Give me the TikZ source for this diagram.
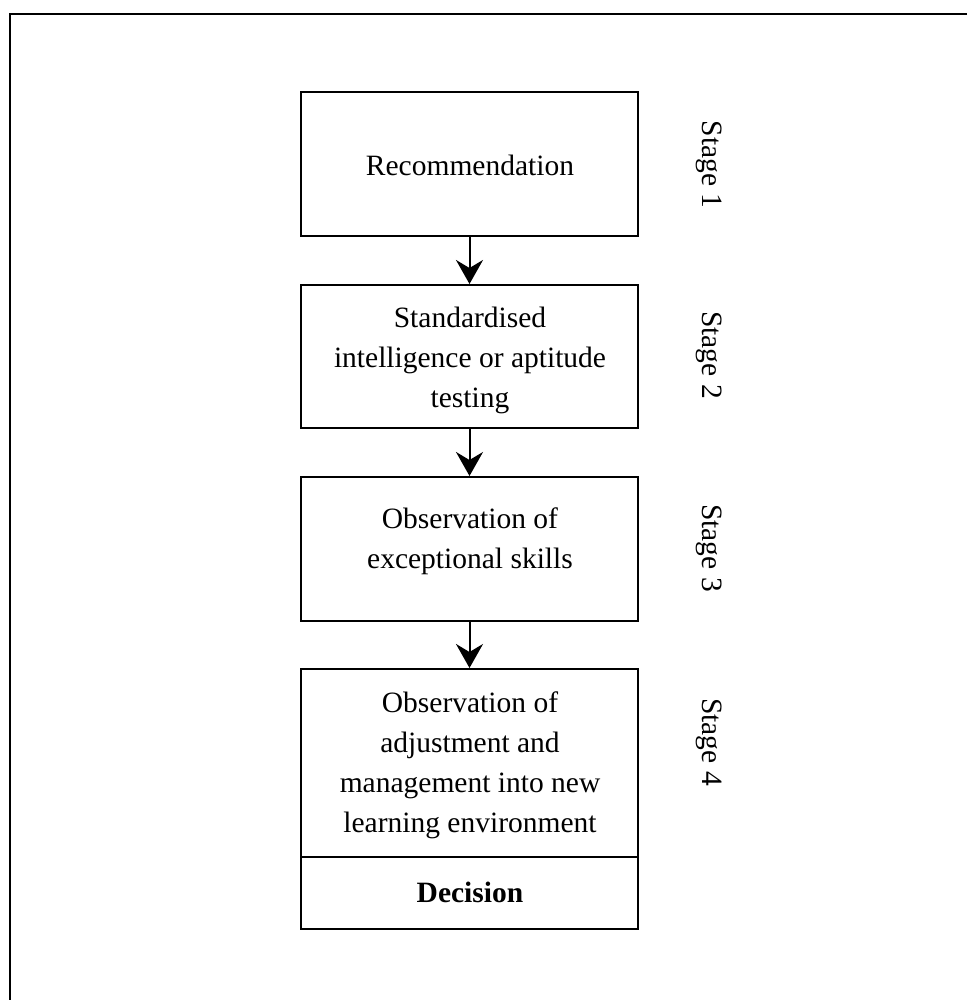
\documentclass[tikz,border=0pt]{standalone}
\usepackage{fontspec}
\setmainfont{Liberation Serif}
\usetikzlibrary{arrows.meta}
\begin{document}
\begin{tikzpicture}[x=1pt,y=-1pt,
  boxshape/.style={draw, line width=2pt, rectangle, inner sep=0pt, minimum width=337pt},
  txt/.style={anchor=base, inner sep=0pt, font=\fontsize{29.5}{40}\selectfont},
  stagelbl/.style={anchor=base, inner sep=0pt, rotate=-90, font=\fontsize{29.5}{40}\selectfont},
  flow/.style={line width=2pt, -{Stealth[length=24pt,width=27pt,inset=8pt]}}]
\useasboundingbox (0,0) rectangle (967,1000);
\draw[line width=2pt] (967,14.5) -- (9.5,14.5) -- (9.5,1000);
% boxes
\node[boxshape, minimum height=144pt] (b1) at (469.5,164) {};
\node[boxshape, minimum height=143pt] (b2) at (469.5,356.5) {};
\node[boxshape, minimum height=144pt] (b3) at (469.5,549) {};
\node[boxshape, minimum height=188pt] (b4) at (469.5,763) {};
\node[boxshape, minimum height=72pt] (bd) at (469.5,893) {};
% texts
\node[txt] (t1) at (470,176) {Recommendation};
\node[txt] (t2) at (470,327) {\begin{tabular}[t]{@{}c@{}}Standardised\\intelligence or aptitude\\testing\end{tabular}};
\node[txt] (t3) at (470,528) {\begin{tabular}[t]{@{}c@{}}Observation of\\exceptional skills\end{tabular}};
\node[txt] (t4) at (470,712) {\begin{tabular}[t]{@{}c@{}}Observation of\\adjustment and\\management into new\\learning environment\end{tabular}};
\node[txt, font=\fontsize{29.5}{40}\selectfont\bfseries] (t5) at (470,902) {Decision};
% stage labels
\node[stagelbl] (s1) at (702,164.5) {Stage 1};
\node[stagelbl] (s2) at (702,355) {Stage 2};
\node[stagelbl] (s3) at (702,548) {Stage 3};
\node[stagelbl] (s4) at (702,742) {Stage 4};
% arrows
\draw[flow] (b1.south) -- (b2.north);
\draw[flow] (b2.south) -- (b3.north);
\draw[flow] (b3.south) -- (b4.north);
\end{tikzpicture}
\end{document}
